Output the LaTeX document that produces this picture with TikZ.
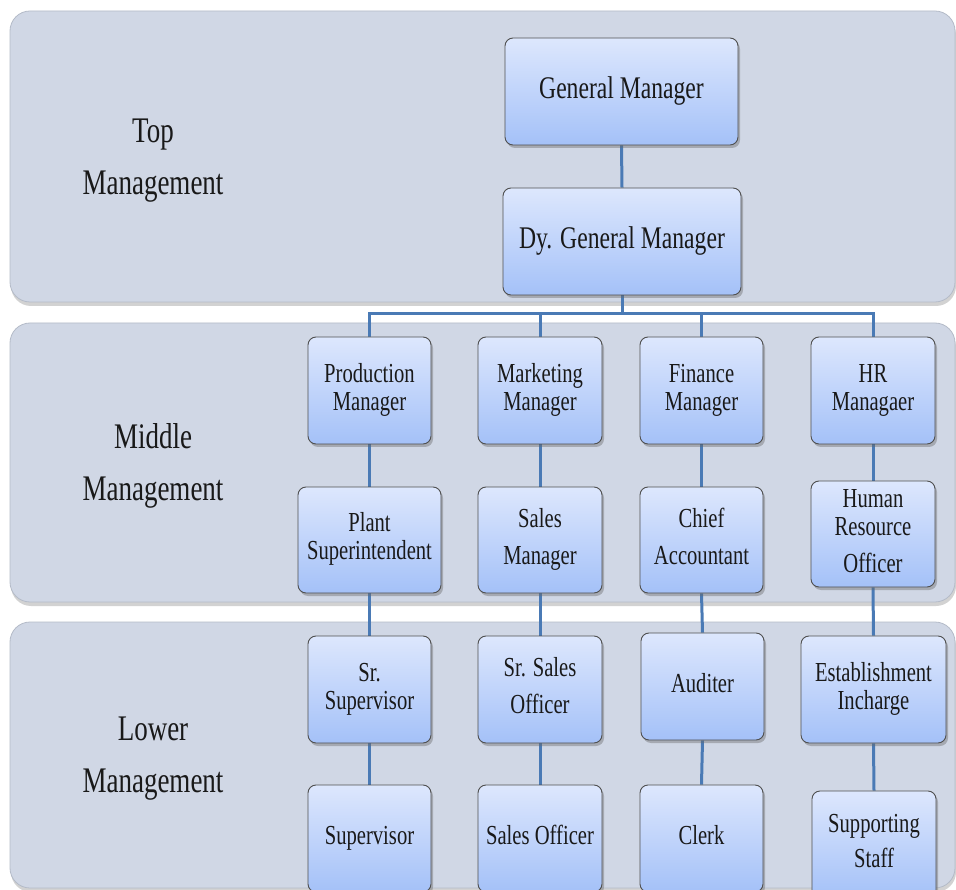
\documentclass[tikz,border=0pt]{standalone}
\usepackage{fontspec}
\usepackage{graphicx}
\newfontfamily\orgfont{Liberation Serif}
\usetikzlibrary{shadows}
\definecolor{bandfill}{HTML}{D0D7E5}
\definecolor{banddraw}{HTML}{B4BBC8}
\definecolor{boxtop}{HTML}{DDE7FD}
\definecolor{boxbot}{HTML}{A4C1F8}
\definecolor{boxdraw}{HTML}{4F4F4F}
\definecolor{linkcol}{HTML}{4A7AB5}
\newcommand{\sqtext}[1]{\scalebox{0.75}[1]{\begin{tabular}{@{}c@{}}#1\end{tabular}}}
\pgfdeclarelayer{bandlayer}
\pgfdeclarelayer{linklayer}
\pgfsetlayers{bandlayer,linklayer,main}
\begin{document}
\begin{tikzpicture}[x=1pt,y=-1pt,
  band/.style={draw=banddraw, line width=0.8pt, fill=bandfill, rounded corners=20pt,
    drop shadow={shadow xshift=1pt, shadow yshift=-4pt, opacity=0.35, fill=gray}},
  box/.style={draw=boxdraw, line width=0.9pt, rounded corners=8pt, top color=boxtop, bottom color=boxbot,
    drop shadow={shadow xshift=2pt, shadow yshift=-3pt, opacity=0.4, fill=gray!80!black},
    inner sep=2pt, text=black!90, font=\orgfont\fontsize{27.5}{28}\selectfont},
  bigbox/.style={box, font=\orgfont\fontsize{31.5}{36}\selectfont},
  lvl/.style={inner sep=0pt, font=\orgfont\fontsize{36}{52}\selectfont, text=black!90},
  link/.style={draw=linkcol, line width=3pt}]
\useasboundingbox (0,0) rectangle (956,890);
\clip (0,0) rectangle (956,890);
\begin{pgfonlayer}{bandlayer}
\fill[white] (0,0) rectangle (956,890);
\path[band] (10,11) rectangle (955,302);
\path[band] (10,323) rectangle (955,602);
\path[band] (10,622) rectangle (955,888);
\end{pgfonlayer}
% level labels
\node[lvl] (ltop) at (153,158) {\sqtext{Top\\Management}};
\node[lvl] (lmid) at (153,464) {\sqtext{Middle\\Management}};
\node[lvl] (llow) at (153,756) {\sqtext{Lower\\Management}};
% top
\node[bigbox, minimum width=233, minimum height=107] (gm) at (621.5,91.5) {\sqtext{General Manager}};
\node[bigbox, minimum width=238, minimum height=107] (dgm) at (622,241.5) {\sqtext{Dy. General Manager}};
% middle row 1
\node[box, minimum width=123, minimum height=107] (pm) at (369.5,390.5) {\sqtext{Production\\Manager}};
\node[box, minimum width=124, minimum height=107] (mm) at (540,390.5) {\sqtext{Marketing\\Manager}};
\node[box, minimum width=123, minimum height=107] (fm) at (701.5,390.5) {\sqtext{Finance\\Manager}};
\node[box, minimum width=124, minimum height=107] (hrm) at (873,390.5) {\sqtext{HR\\Managaer}};
% middle row 2
\node[box, minimum width=143, minimum height=106] (ps) at (369.5,540) {\sqtext{Plant\\Superintendent}};
\node[box, minimum width=124, minimum height=106] (sm) at (540,540) {\sqtext{Sales\\[9pt]Manager}};
\node[box, minimum width=123, minimum height=106] (ca) at (701.5,540) {\sqtext{Chief\\[9pt]Accountant}};
\node[box, minimum width=124, minimum height=106] (hro) at (873,534) {\sqtext{Human\\Resource\\[9pt]Officer}};
% lower row 1
\node[box, minimum width=123, minimum height=107] (ss) at (369.5,689.5) {\sqtext{Sr.\\Supervisor}};
\node[box, minimum width=124, minimum height=107] (sso) at (540,689.5) {\sqtext{Sr. Sales\\[9pt]Officer}};
\node[box, minimum width=123, minimum height=107] (aud) at (702.5,686.5) {\sqtext{Auditer}};
\node[box, minimum width=145, minimum height=107] (ei) at (873.5,689.5) {\sqtext{Establishment\\Incharge}};
% lower row 2
\node[box, minimum width=123, minimum height=107] (sup) at (369.5,838.5) {\sqtext{Supervisor}};
\node[box, minimum width=124, minimum height=107] (so) at (540,838.5) {\sqtext{Sales Officer}};
\node[box, minimum width=123, minimum height=107] (clerk) at (701.5,838.5) {\sqtext{Clerk}};
\node[box, minimum width=124, minimum height=107] (sst) at (874,844.5) {\sqtext{Supporting\\[7pt]Staff}};
% connectors
\coordinate (bus) at (622,314);
\begin{pgfonlayer}{linklayer}
\draw[link] (gm.south) -- (dgm.north);
\draw[link] (dgm.south) -- (bus);
\draw[link] (pm.north) |- (bus);
\draw[link] (mm.north) |- (bus);
\draw[link] (fm.north) |- (bus);
\draw[link] (hrm.north) |- (bus);
\draw[link] (pm.south) -- (ps.north);
\draw[link] (mm.south) -- (sm.north);
\draw[link] (fm.south) -- (ca.north);
\draw[link] (hrm.south) -- (hro.north);
\draw[link] (ps.south) -- (ss.north);
\draw[link] (sm.south) -- (sso.north);
\draw[link] (ca.south) -- (aud.north);
\draw[link] (hro.south) -- (ei.north);
\draw[link] (ss.south) -- (sup.north);
\draw[link] (sso.south) -- (so.north);
\draw[link] (aud.south) -- (clerk.north);
\draw[link] (ei.south) -- (sst.north);
\end{pgfonlayer}
\end{tikzpicture}
\end{document}
